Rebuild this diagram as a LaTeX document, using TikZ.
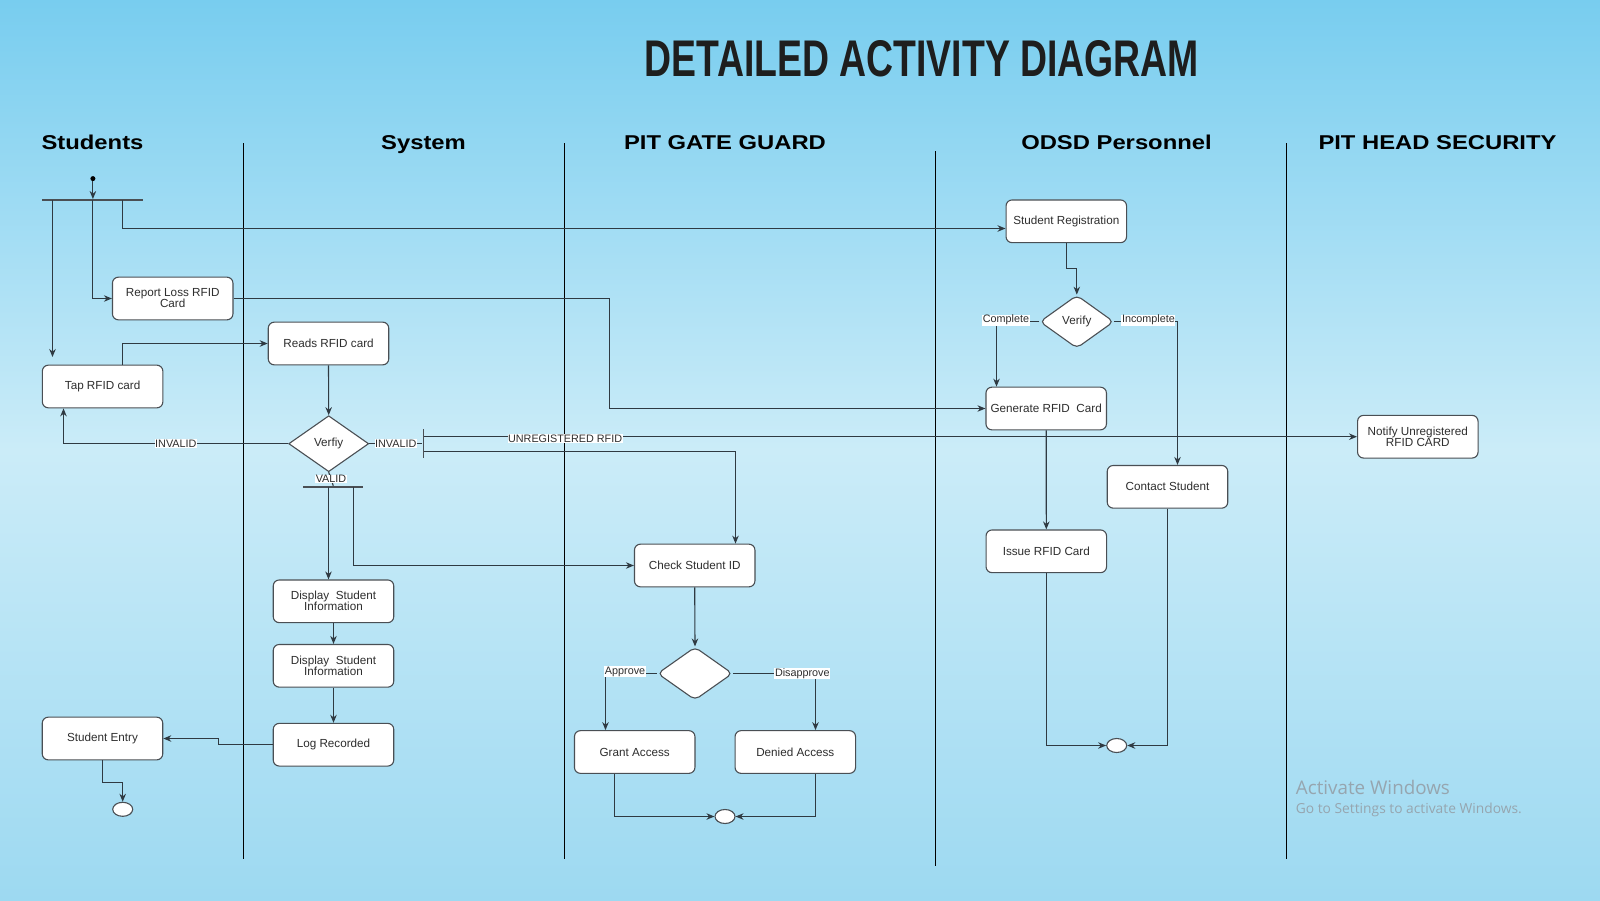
\documentclass[tikz,border=0pt]{standalone}
\usepackage{fontspec}
\usepackage{graphicx}
\setmainfont{Liberation Sans}
\newfontfamily\wmfont{Open Sans}
\usetikzlibrary{shapes.geometric,arrows.meta,calc}
\definecolor{bgtop}{HTML}{78CDEF}
\definecolor{bgmid}{HTML}{CBECF8}
\definecolor{bgbot}{HTML}{9DD9F1}
\definecolor{boxline}{HTML}{4A4F54}
\definecolor{conn}{HTML}{2F3A42}
\definecolor{txt}{HTML}{2E2E2E}
\definecolor{wm}{RGB}{150,165,175}
\newcommand{\hdr}[1]{\scalebox{1.19}[1]{\fontsize{20}{24}\selectfont\bfseries #1}}
\begin{document}
\begin{tikzpicture}[x=1pt,y=-1pt,
  act/.style={rectangle,rounded corners=6pt,draw=boxline,fill=white,line width=1.1pt,
    minimum width=120.5pt,minimum height=42.7pt,align=center,inner sep=1pt,
    font=\fontsize{11.7}{11}\selectfont,text=txt},
  dec/.style={diamond,draw=boxline,fill=white,line width=1.1pt,inner sep=0pt,
    font=\fontsize{11.7}{11}\selectfont,text=txt},
  endc/.style={ellipse,draw=boxline,fill=white,line width=1.1pt,minimum width=20pt,minimum height=14pt,inner sep=0pt},
  barh/.style={rectangle,fill=boxline,inner sep=0pt,minimum height=1.6pt},
  barv/.style={rectangle,fill=boxline,inner sep=0pt,minimum width=1.6pt},
  lab/.style={fill=white,inner sep=0.6pt,font=\fontsize{10.8}{11}\selectfont,text=txt},
  arr/.style={draw=conn,line width=1.1pt,-{Stealth[length=8pt,width=6.5pt]}},
  ln/.style={draw=conn,line width=1.1pt},
  lane/.style={draw=black,line width=1pt},
  hd/.style={text=black,inner sep=0pt,anchor=base}
]
\useasboundingbox (0,0) rectangle (1600,900);
\shade[top color=bgtop,bottom color=bgbot,middle color=bgmid] (0,0) rectangle (1600,900);

% title
\node[text={rgb,255:red,30;green,30;blue,30},inner sep=0pt] (title) at (922,58.7)
  {\resizebox{554pt}{36pt}{\bfseries DETAILED ACTIVITY DIAGRAM}};

% lane headers
\node[hd] (h1) at (92.5,149) {\hdr{Students}};
\node[hd] (h2) at (423.5,149) {\hdr{System}};
\node[hd] (h3) at (725,149) {\hdr{PIT GATE GUARD}};
\node[hd] (h4) at (1116.5,149) {\hdr{ODSD Personnel}};
\node[hd] (h5) at (1437.5,149) {\hdr{PIT HEAD SECURITY}};

% lane separators
\coordinate (l1a) at (243.5,143); \coordinate (l1b) at (243.5,859);
\coordinate (l2a) at (564.5,143); \coordinate (l2b) at (564.5,859);
\coordinate (l3a) at (935.5,151); \coordinate (l3b) at (935.5,866);
\coordinate (l4a) at (1286.5,143); \coordinate (l4b) at (1286.5,859);
\draw[lane] (l1a) -- (l1b);
\draw[lane] (l2a) -- (l2b);
\draw[lane] (l3a) -- (l3b);
\draw[lane] (l4a) -- (l4b);

% nodes - Students
\node[circle,fill=black,inner sep=0pt,minimum size=5pt] (start) at (92.9,178.6) {};
\node[barh,minimum width=101pt] (fork1) at (92.9,200) {};
\node[act] (report) at (172.7,298.5) {Report Loss RFID\\Card};
\node[act] (tap) at (102.6,386.5) {Tap RFID card};
\node[act] (entry) at (102.5,738.5) {Student Entry};
\node[endc] (final1) at (122.7,809.3) {};

% System
\node[act] (reads) at (328.5,343.5) {Reads RFID card};
\node[dec,minimum width=80pt,minimum height=56pt] (ver1) at (328.7,443.7) {Verfiy};
\node[barv,minimum height=28.7pt] (bar2) at (423.3,443.3) {};
\node[barh,minimum width=60pt] (bar3) at (333.3,486.7) {};
\node[act] (disp1) at (333.5,601.3) {Display\ \ Student\\Information};
\node[act] (disp2) at (333.5,665.8) {Display\ \ Student\\Information};
\node[act] (log) at (333.5,744.7) {Log Recorded};

% Pit gate guard
\node[act] (check) at (694.7,565.5) {Check Student ID};
\node[dec,rounded corners=5pt,minimum width=75pt,minimum height=53pt] (dec2) at (695,673.5) {};
\node[act] (grant) at (634.7,752) {Grant Access};
\node[act] (denied) at (795.3,752) {Denied Access};
\node[endc] (merge2) at (725,816.5) {};

% ODSD
\node[act] (reg) at (1066.3,221.3) {Student Registration};
\node[dec,rounded corners=5pt,minimum width=74pt,minimum height=53pt] (ver2) at (1076.8,321.7) {Verify};
\node[act] (gen) at (1046.2,408.5) {Generate RFID\ \ Card};
\node[act] (contact) at (1167.5,486.8) {Contact Student};
\node[act] (issue) at (1046.3,551.3) {Issue RFID Card};
\node[endc] (merge3) at (1116.7,745.5) {};

% Pit head security
\node[act] (notify) at (1417.8,436.7) {Notify Unregistered\\RFID CARD};

% connectors
\draw[arr] (start) -- (fork1);
\coordinate (f1a) at (52.5,200); \coordinate (f1aend) at (52.5,357);
\draw[arr] (f1a) -- (f1aend);
\draw[arr] (fork1.center) |- (report.west);
\coordinate (f1c) at (122.5,200);
\draw[arr] (f1c) |- ($(reg.west)+(0,7.2)$);
\coordinate (bendA) at (609.5,350);
\draw[arr] (report.east) -| (bendA) |- (gen.west);
\draw[arr] ($(tap.north)+(19.9,0)$) |- (reads.west);
\draw[arr] (reads.south) -- (ver1.north);
\draw[arr] (ver1.west) -| ($(tap.south)+(-39.1,0)$) node[lab,pos=0.25] {INVALID};
\draw[ln] (ver1.east) -- (bar2.west |- ver1.east) node[lab,midway] {INVALID};
\draw[arr] ($(bar2.east)+(0,-6.6)$) -- (notify.west) node[lab,pos=0.151,yshift=-2pt] {UNREGISTERED RFID};
\draw[arr] ($(bar2.east)+(0,8.4)$) -| ($(check.north)+(40.8,0)$);
\draw[ln] (ver1.south) -- (bar3.north) node[lab,midway] {VALID};
\coordinate (v1) at (328.5,486.7);
\draw[arr] (v1) -- (v1 |- disp1.north);
\coordinate (v2) at (353.5,486.7);
\draw[arr] (v2) |- (check.west);
\draw[arr] (disp1.south) -- (disp2.north);
\draw[arr] (disp2.south) -- (log.north);
\coordinate (lb) at (218.5,741);
\draw[arr] (log.west) -| (lb) |- (entry.east);
\draw[arr] (entry.south) -- ++(0,21.7) -| (final1.north);

\draw[arr] (check.south) -- (dec2.north);
\draw[arr] (dec2.west) -| ($(grant.north)+(-29.2,0)$) node[lab,pos=0.31,yshift=2pt] {Approve};
\draw[arr] (dec2.east) -| ($(denied.north)+(20.2,0)$) node[lab,pos=0.42] {Disapprove};
\draw[arr] ($(grant.south)+(-20.2,0)$) |- (merge2.west);
\draw[arr] ($(denied.south)+(20.2,0)$) |- (merge2.east);

\draw[arr] (reg.south) -- ++(0,25.6) -| (ver2.north);
\draw[arr] (ver2.west) -| ($(gen.north)+(-49.7,0)$) node[lab,pos=0.39,yshift=1.5pt] {Complete};
\draw[arr] (ver2.east) -| ($(contact.north)+(10,0)$) node[lab,pos=0.27,yshift=1.5pt] {Incomplete};
\draw[arr] (gen.south) -- (issue.north);
\draw[arr] (issue.south) |- (merge3.west);
\draw[arr] (contact.south) |- (merge3.east);

% watermark
\node[anchor=west,inner sep=0pt,text=wm,font=\wmfont\fontsize{18.8}{20}\selectfont] (wm1) at (1295.7,787) {Activate Windows};
\node[anchor=west,inner sep=0pt,text=wm,font=\wmfont\fontsize{13.8}{15}\selectfont] (wm2) at (1295.7,810) {Go to Settings to activate Windows.};
\end{tikzpicture}
\end{document}
